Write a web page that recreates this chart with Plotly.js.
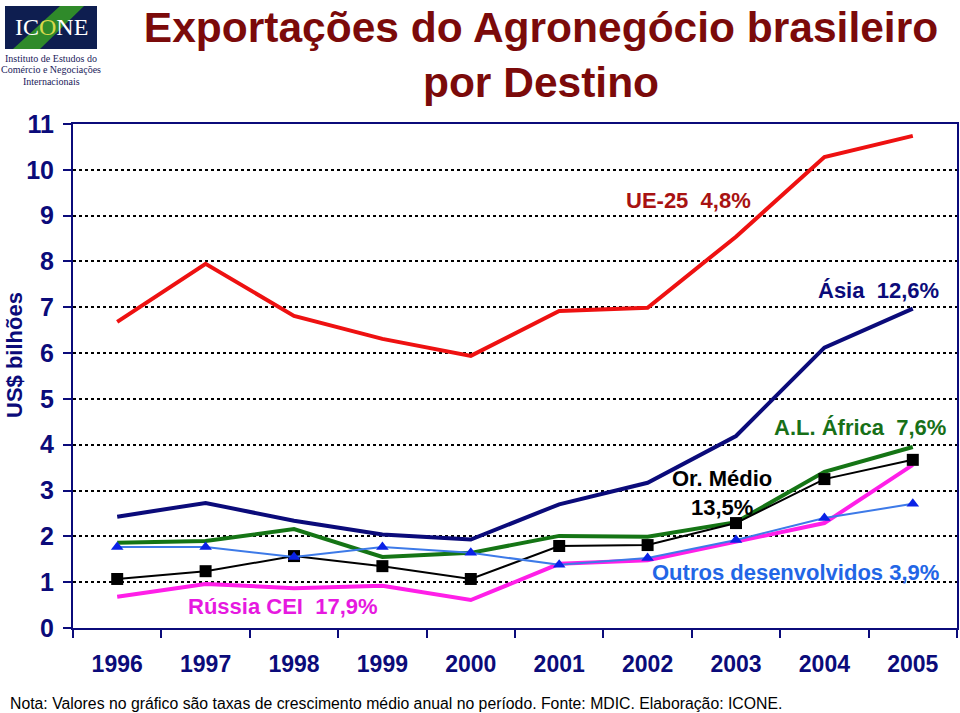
<!DOCTYPE html>
<html>
<head>
<meta charset="utf-8">
<script src="https://cdn.plot.ly/plotly-3.0.1.min.js"></script>
<style>html,body{margin:0;padding:0;background:#fff;}#chart{width:960px;height:713px;}</style>
</head>
<body>
<div id="chart"></div>
<script>
// ---- data ----
const years = ['1996','1997','1998','1999','2000','2001','2002','2003','2004','2005'];
const ue25      = [6.68, 7.95, 6.81, 6.31, 5.94, 6.92, 6.99, 8.54, 10.28, 10.74];
const asia      = [2.43, 2.73, 2.34, 2.04, 1.93, 2.70, 3.17, 4.19, 6.12, 6.97];
const alAfrica  = [1.86, 1.90, 2.16, 1.55, 1.64, 2.01, 1.99, 2.31, 3.41, 3.95];
const orMedio   = [1.07, 1.24, 1.57, 1.35, 1.07, 1.79, 1.81, 2.29, 3.25, 3.67];
const outrosDes = [1.77, 1.77, 1.55, 1.77, 1.64, 1.38, 1.53, 1.92, 2.40, 2.71];
const russia    = [0.68, 0.96, 0.87, 0.92, 0.61, 1.40, 1.48, 1.88, 2.29, 3.56];
const yTicks = [0,1,2,3,4,5,6,7,8,9,10,11];

const W = 960, H = 713;
const M = {l: 73, r: 3, t: 124, b: 85};
const PW = W - M.l - M.r, PH = H - M.t - M.b;
const px = x => (x - M.l) / PW;
const py = y => (H - M.b - y) / PH;

const FONT = 'Liberation Sans, Arial, Helvetica, sans-serif';
const SERIF = 'Liberation Serif, Times New Roman, serif';
const NAVY = '#0b0b7a';

const traces = [
  {x: years, y: ue25, mode: 'lines', line: {color: '#ee1111', width: 4}, name: 'UE-25'},
  {x: years, y: asia, mode: 'lines', line: {color: '#0b0b7a', width: 4}, name: 'Ásia'},
  {x: years, y: alAfrica, mode: 'lines', line: {color: '#157515', width: 4}, name: 'A.L. África'},
  {x: years, y: russia, mode: 'lines', line: {color: '#ff1fe8', width: 4}, name: 'Rússia CEI'},
  {x: years, y: orMedio, mode: 'lines+markers', line: {color: '#000000', width: 2},
   marker: {symbol: 'square', size: 12, color: '#000000'}, name: 'Or. Médio'},
  {x: years, y: outrosDes, mode: 'lines+markers', line: {color: '#3d7ae8', width: 2},
   marker: {symbol: 'triangle-up', size: 11, color: '#0a22e6'}, name: 'Outros desenvolvidos'}
];

const ann = (text, x, y, color, size, extra) => Object.assign({
  text: text, xref: 'paper', yref: 'paper', x: px(x), y: py(y),
  xanchor: 'center', yanchor: 'middle', showarrow: false,
  font: {family: FONT, size: size, color: color}
}, extra || {});

const logoFont = {family: SERIF, size: 10, color: '#1a1a5a'};

const annotations = [
  ann('<b>UE-25\u00a0 4,8%</b>', 688, 200, '#a81212', 22),
  ann('<b>Ásia\u00a0 12,6%</b>', 878, 290, NAVY, 22),
  ann('<b>A.L. África\u00a0 7,6%</b>', 860, 427, '#187018', 22),
  ann('<b>Or. Médio<br>13,5%</b>', 722, 493, '#000000', 22),
  ann('<b>Outros desenvolvidos 3,9%</b>', 795, 572, '#2266e6', 22),
  ann('<b>Rússia CEI\u00a0 17,9%</b>', 283, 606, '#e619e0', 22),
  ann('<b>US$ bilhões</b>', 14, 355, NAVY, 22, {textangle: -90}),
  ann('Nota: Valores no gráfico são taxas de crescimento médio anual no período. Fonte: MDIC. Elaboração: ICONE.',
      8, 703, '#000000', 15.8, {xanchor: 'left'}),
  // logo
  ann('IC<span style="color:#d6d84c">O</span>NE', 51, 27, '#ffffff', 24, {font: {family: SERIF, size: 24, color: '#ffffff'}}),
  ann('Instituto de Estudos do', 51, 58, '#1a1a5a', 10, {font: logoFont}),
  ann('Comércio e Negociações', 51, 70, '#1a1a5a', 10, {font: logoFont}),
  ann('Internacionais', 51, 81, '#1a1a5a', 10, {font: logoFont})
];

const shapes = [
  {type: 'rect', xref: 'paper', yref: 'paper', x0: px(5), x1: px(97), y0: py(49), y1: py(6),
   fillcolor: '#0e1e50', line: {width: 0}, layer: 'below'},
  {type: 'path', xref: 'paper', yref: 'paper',
   path: `M ${px(13)} ${py(49)} L ${px(40)} ${py(49)} L ${px(84)} ${py(6)} L ${px(60)} ${py(6)} Z`,
   fillcolor: '#2f8a2a', line: {width: 0}, layer: 'below'}
];

const layout = {
  width: W, height: H,
  margin: M,
  paper_bgcolor: '#ffffff', plot_bgcolor: '#ffffff',
  showlegend: false,
  title: {
    text: '<b>Exportações do Agronegócio brasileiro<br>por Destino</b>',
    font: {family: FONT, size: 42.5, color: '#7b0a0a'},
    x: 541 / W, xanchor: 'center', xref: 'container',
    y: 1 - 42 / H, yanchor: 'top', yref: 'container'
  },
  xaxis: {
    type: 'category', range: [-0.5, 9.5],
    showgrid: false, showline: true, linecolor: NAVY, linewidth: 2, mirror: true,
    ticks: 'outside', tickson: 'boundaries', ticklen: 8, tickwidth: 2, tickcolor: NAVY,
    ticklabelstandoff: 14,
    tickfont: {family: FONT, size: 23, color: NAVY, weight: 'bold'},
    fixedrange: true
  },
  yaxis: {
    range: [0, 11], tickvals: yTicks, ticktext: yTicks.map(String),
    showgrid: true, gridcolor: '#000000', gridwidth: 2, griddash: 'dot',
    zeroline: false, showline: true, linecolor: NAVY, linewidth: 2, mirror: true,
    ticks: 'outside', ticklen: 8, tickwidth: 2, tickcolor: NAVY,
    ticklabelstandoff: 4,
    tickfont: {family: FONT, size: 25, color: NAVY, weight: 'bold'},
    fixedrange: true
  },
  annotations: annotations,
  shapes: shapes
};

Plotly.newPlot('chart', traces, layout, {displayModeBar: false, staticPlot: true});
</script>
</body>
</html>
